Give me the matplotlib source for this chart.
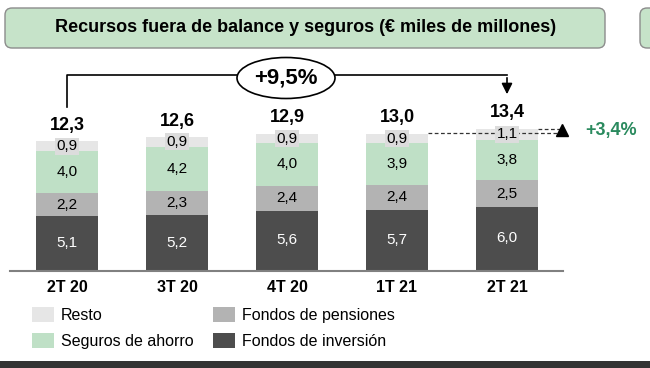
import matplotlib.pyplot as plt
import matplotlib.transforms as mtransforms
from matplotlib.patches import FancyBboxPatch, Ellipse, Rectangle
import numpy as np

plt.rcParams['font.family'] = ['Liberation Sans', 'DejaVu Sans']

periodos = ['2T 20', '3T 20', '4T 20', '1T 21', '2T 21']
fondos_inversion = [5.1, 5.2, 5.6, 5.7, 6.0]
fondos_pensiones = [2.2, 2.3, 2.4, 2.4, 2.5]
seguros_ahorro = [4.0, 4.2, 4.0, 3.9, 3.8]
resto = [0.9, 0.9, 0.9, 0.9, 1.1]
totales = [12.3, 12.6, 12.9, 13.0, 13.4]

W, H = 650, 368
fig = plt.figure(figsize=(W / 100, H / 100), dpi=100)
ax = fig.add_axes([0, 0, 1, 1])

# pixel <-> data: bar i centred at 67 + 110*i px, baseline at 270 px, 10.55 px per unit
sx, x0, base, sy = 110.0, 67.0, 270.0, 10.55
ax.set_xlim(-x0 / sx, (W - x0) / sx)
ax.set_ylim((base - H) / sy, base / sy)
ax.axis('off')


def vx(px):
    return (px - x0) / sx


def vy(py):
    return (base - py) / sy


x = np.arange(len(periodos))
bw = 0.56
series = [
    (fondos_inversion, '#4d4d4d', 'Fondos de inversión', 'white'),
    (fondos_pensiones, '#b3b3b3', 'Fondos de pensiones', 'black'),
    (seguros_ahorro, '#bfe0c6', 'Seguros de ahorro', 'black'),
    (resto, '#e6e6e6', 'Resto', 'black'),
]
bottom = np.zeros(len(x))
handles = {}
for vals, col, name, tcol in series:
    vals = np.array(vals)
    b = ax.bar(x, vals, bw, bottom=bottom, color=col, zorder=2)
    handles[name] = b
    for xi, v, bt in zip(x, vals, bottom):
        kw = {}
        if name == 'Resto':
            kw['bbox'] = dict(boxstyle='square,pad=0.1', fc='#dcdcdc', ec='none')
        ax.text(xi, bt + v / 2, f'{v:.1f}'.replace('.', ','), ha='center', va='center',
                fontsize=11, color=tcol, zorder=4, **kw)
    bottom += vals

for xi, t, top in zip(x, totales, bottom):
    ax.text(xi, top + 16 / sy, f'{t:.1f}'.replace('.', ','), ha='center', va='center',
            fontsize=13, fontweight='bold', zorder=4)

# baseline
ax.plot([vx(10), vx(563)], [-0.1, -0.1], color='#808080', lw=1.5, zorder=3)

for xi, p in zip(x, periodos):
    ax.text(xi, vy(288), p, ha='center', va='center', fontsize=11.5, fontweight='bold')

# bracket +9,5%
yb = vy(75)
ax.plot([0, 0, 4], [vy(107), yb, yb], color='black', lw=1.2, zorder=3)
ax.annotate('', xy=(4, vy(97)), xytext=(4, yb),
            arrowprops=dict(arrowstyle='-|>', color='black', lw=1.2, mutation_scale=16))
ax.add_patch(Ellipse((vx(286), vy(78)), 98 / sx, 41 / sy, fc='white', ec='black', lw=1.2, zorder=4))
ax.text(vx(286), vy(78), '+9,5%', ha='center', va='center', fontsize=16, fontweight='bold', zorder=5)

# +3,4% dashed comparison
ax.plot([x[3] + bw / 2, vx(560)], [totales[3], totales[3]], ls=(0, (3, 2)), color='#333333', lw=0.9, zorder=3)
ax.plot([x[4] + bw / 2, vx(560)], [bottom[4], bottom[4]], ls=(0, (3, 2)), color='#333333', lw=0.9, zorder=3)
ax.plot(vx(562), totales[3] + 0.3, marker='^', color='black', ms=8, zorder=4)
ax.text(vx(585), vy(131), '+3,4%', ha='left', va='center', fontsize=13, fontweight='bold', color='#2a8a5e')

# title boxes (pixel coordinates)
ident = mtransforms.IdentityTransform()
for bx, bwid in [(5, 600), (640, 40)]:
    fig.patches.append(FancyBboxPatch((bx, H - 48), bwid, 40, boxstyle='round,pad=0,rounding_size=7',
                                      fc='#c6e3c9', ec='#8c8c8c', lw=1.0, transform=ident, figure=fig))
fig.text(306 / W, 1 - 28 / H, 'Recursos fuera de balance y seguros (€ miles de millones)',
         ha='center', va='center', fontsize=13, fontweight='bold')

# bottom band
fig.patches.append(Rectangle((0, 0), W, 7, fc='#333333', ec='none', transform=ident, figure=fig))

order = ['Resto', 'Seguros de ahorro', 'Fondos de pensiones', 'Fondos de inversión']
ax.legend([handles[n] for n in order], order, ncol=2, frameon=False,
          loc='upper left', bbox_to_anchor=(32 / W, 1 - 307 / H), bbox_transform=fig.transFigure,
          fontsize=11.5, handlelength=1.4, handleheight=1.1, handletextpad=0.42,
          columnspacing=1.2, labelspacing=0.62, borderpad=0, borderaxespad=0)

fig.savefig('out.png', dpi=100)
